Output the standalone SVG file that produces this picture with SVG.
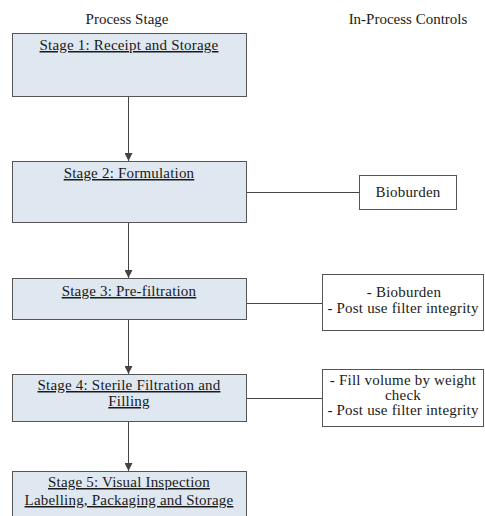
<svg xmlns="http://www.w3.org/2000/svg" width="485" height="516" viewBox="0 0 485 516">
<style>
text{font-family:'Liberation Serif','Times New Roman','DejaVu Serif',serif;font-size:15px;fill:#1a1a1a;text-anchor:middle}
.w{letter-spacing:0.2px}
.stage{fill:#dfe8f1;stroke:#555;stroke-width:1}
.ctrl{fill:#fff;stroke:#555;stroke-width:1}
.u{text-decoration:underline}
.c{stroke:#444;stroke-width:1;fill:none}
</style>
<defs>
<marker id="ah" viewBox="0 0 10 10" refX="10" refY="5" markerWidth="8" markerHeight="8" markerUnits="userSpaceOnUse" orient="auto">
<path d="M0,0 L10,5 L0,10 Z" fill="#444"/>
</marker>
</defs>
<rect width="485" height="516" fill="#fff"/>
<text x="127" y="24">Process Stage</text>
<text x="408" y="24">In-Process Controls</text>
<g id="connectors">
<line class="c" x1="128.5" y1="97" x2="128.5" y2="161" marker-end="url(#ah)"/>
<line class="c" x1="128.5" y1="223" x2="128.5" y2="278" marker-end="url(#ah)"/>
<line class="c" x1="128.5" y1="320" x2="128.5" y2="374" marker-end="url(#ah)"/>
<line class="c" x1="128.5" y1="422" x2="128.5" y2="471" marker-end="url(#ah)"/>
<line class="c" x1="246" y1="192.5" x2="359" y2="192.5"/>
<line class="c" x1="246" y1="303.5" x2="322" y2="303.5"/>
<line class="c" x1="246" y1="398.5" x2="322" y2="398.5"/>
</g>
<g id="stage1">
<rect class="stage" x="12.5" y="33.5" width="234" height="63"/>
<text class="u w" x="129" y="50">Stage 1: Receipt and Storage</text>
</g>
<g id="stage2">
<rect class="stage" x="12.5" y="161.5" width="234" height="61"/>
<text class="u w" x="129" y="178">Stage 2: Formulation</text>
</g>
<g id="stage3">
<rect class="stage" x="12.5" y="278.5" width="234" height="41"/>
<text class="u w" x="129" y="296">Stage 3: Pre-filtration</text>
</g>
<g id="stage4">
<rect class="stage" x="12.5" y="374.5" width="234" height="47"/>
<text class="u w" x="129" y="390">Stage 4: Sterile Filtration and</text>
<text class="u w" x="129" y="406">Filling</text>
</g>
<g id="stage5">
<rect class="stage" x="12.5" y="471.5" width="234" height="60"/>
<text class="u w" x="129" y="487">Stage 5: Visual Inspection</text>
<text class="u w" x="129" y="505">Labelling, Packaging and Storage</text>
</g>
<g id="ctrl2">
<rect class="ctrl" x="359.5" y="175.5" width="97" height="34"/>
<text class="w" x="408" y="197">Bioburden</text>
</g>
<g id="ctrl3">
<rect class="ctrl" x="322.5" y="274.5" width="161" height="56"/>
<text class="w" x="404" y="297">- Bioburden</text>
<text class="w" x="403" y="313">- Post use filter integrity</text>
</g>
<g id="ctrl4">
<rect class="ctrl" x="322.5" y="369.5" width="161" height="57"/>
<text class="w" x="403" y="385">- Fill volume by weight</text>
<text class="w" x="403" y="400">check</text>
<text class="w" x="403" y="415">- Post use filter integrity</text>
</g>
</svg>
